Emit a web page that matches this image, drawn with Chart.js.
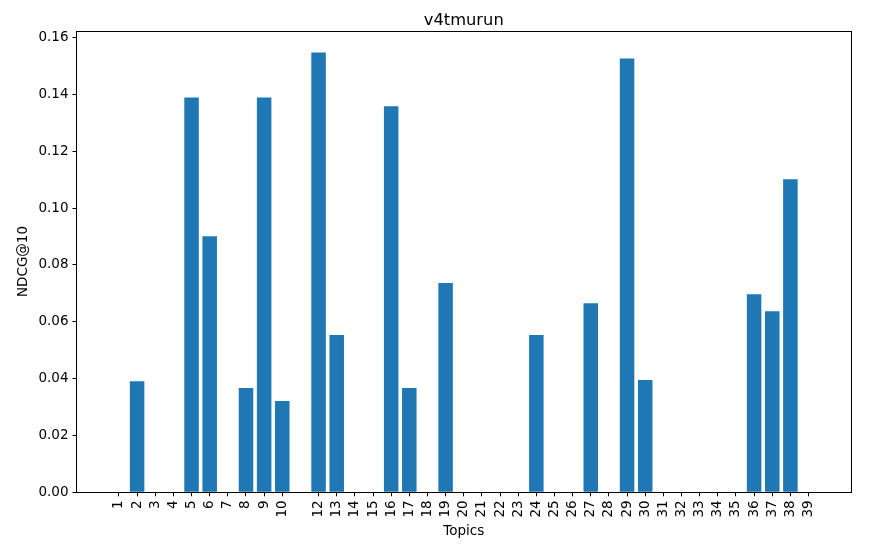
<!DOCTYPE html>
<html>
<head>
<meta charset="utf-8">
<script src="https://cdn.jsdelivr.net/npm/chart.js@4"></script>
<style>
  html, body { margin: 0; padding: 0; background: #fff; }
  canvas { display: block; }
</style>
</head>
<body>
<canvas id="c" width="887" height="545"></canvas>
<script>
// ---- data ----
const chartTitle = "v4tmurun";
const xLabel = "Topics";
const yLabel = "NDCG@10";
const topics = [1,2,3,4,5,6,7,8,9,10,12,13,14,15,16,17,18,19,20,21,22,23,24,25,26,27,28,29,30,31,32,33,34,35,36,37,38,39];
const ndcg   = [0,0.0391,0,0,0.1389,0.0901,0,0.0367,0.1389,0.0321,0.1547,0.0553,0,0,0.1358,0.0367,0,0.0736,0,0,0,0,0.0553,0,0,0.0665,0,0.1526,0.0395,0,0,0,0,0,0.0697,0.0637,0.1101,0];
const yTicks = [0,0.02,0.04,0.06,0.08,0.10,0.12,0.14,0.16];

const FONT = "'DejaVu Sans', sans-serif";
Chart.defaults.font.family = FONT;
Chart.defaults.color = '#000';

// frame around the plot area + title centred over the axes (like matplotlib)
const frame = {
  id: 'frame',
  afterDatasetsDraw(chart) {
    const {ctx, chartArea: a} = chart;
    ctx.save();
    ctx.strokeStyle = '#000';
    ctx.lineWidth = 1;
    ctx.strokeRect(Math.round(a.left) - 0.5, Math.round(a.top) + 0.5, Math.round(a.right) - Math.round(a.left) + 1, Math.round(a.bottom) - Math.round(a.top));
    ctx.fillStyle = '#000';
    ctx.font = '16.3px ' + FONT;
    ctx.textAlign = 'center';
    ctx.textBaseline = 'alphabetic';
    ctx.fillText(chartTitle, (a.left + a.right) / 2, 24.5);
    ctx.restore();
  }
};

new Chart(document.getElementById('c'), {
  type: 'bar',
  data: {
    datasets: [{
      data: topics.map((t, i) => ({x: t, y: ndcg[i]})),
      backgroundColor: '#1f77b4',
      borderWidth: 0,
      categoryPercentage: 0.8,
      barPercentage: 1.0
    }]
  },
  options: {
    responsive: false,
    animation: false,
    devicePixelRatio: 1,
    layout: { padding: { left: 0, right: 36, top: 30.7, bottom: 0 } },
    plugins: {
      legend: { display: false },
      tooltip: { enabled: false },
      title: { display: false }
    },
    scales: {
      x: {
        type: 'linear',
        min: -1.34,
        max: 41.34,
        offset: false,
        afterBuildTicks(axis) { axis.ticks = topics.map(v => ({value: v})); },
        afterFit(scale) { scale.height = 52.7; },
        grid: { offset: false, drawOnChartArea: false, drawTicks: true, tickLength: 4, color: '#000' },
        border: { display: false },
        ticks: {
          autoSkip: false,
          maxRotation: 90,
          minRotation: 90,
          padding: 4,
          font: { size: 13.5 },
          callback: (v) => String(v)
        },
        title: { display: true, text: xLabel, font: { size: 13.5 }, padding: { top: 2, bottom: 5.6 } }
      },
      y: {
        min: 0,
        max: 0.1624,
        afterBuildTicks(axis) { axis.ticks = yTicks.map(v => ({value: v})); },
        afterFit(scale) { scale.width = 76.5; },
        grid: { drawOnChartArea: false, drawTicks: true, tickLength: 4, color: '#000' },
        border: { display: false },
        ticks: {
          padding: 4,
          font: { size: 13.5 },
          callback: (v) => Number(v).toFixed(2)
        },
        title: { display: true, text: yLabel, font: { size: 13.5 }, padding: { top: 15, bottom: 0 } }
      }
    }
  },
  plugins: [frame]
});
</script>
</body>
</html>
